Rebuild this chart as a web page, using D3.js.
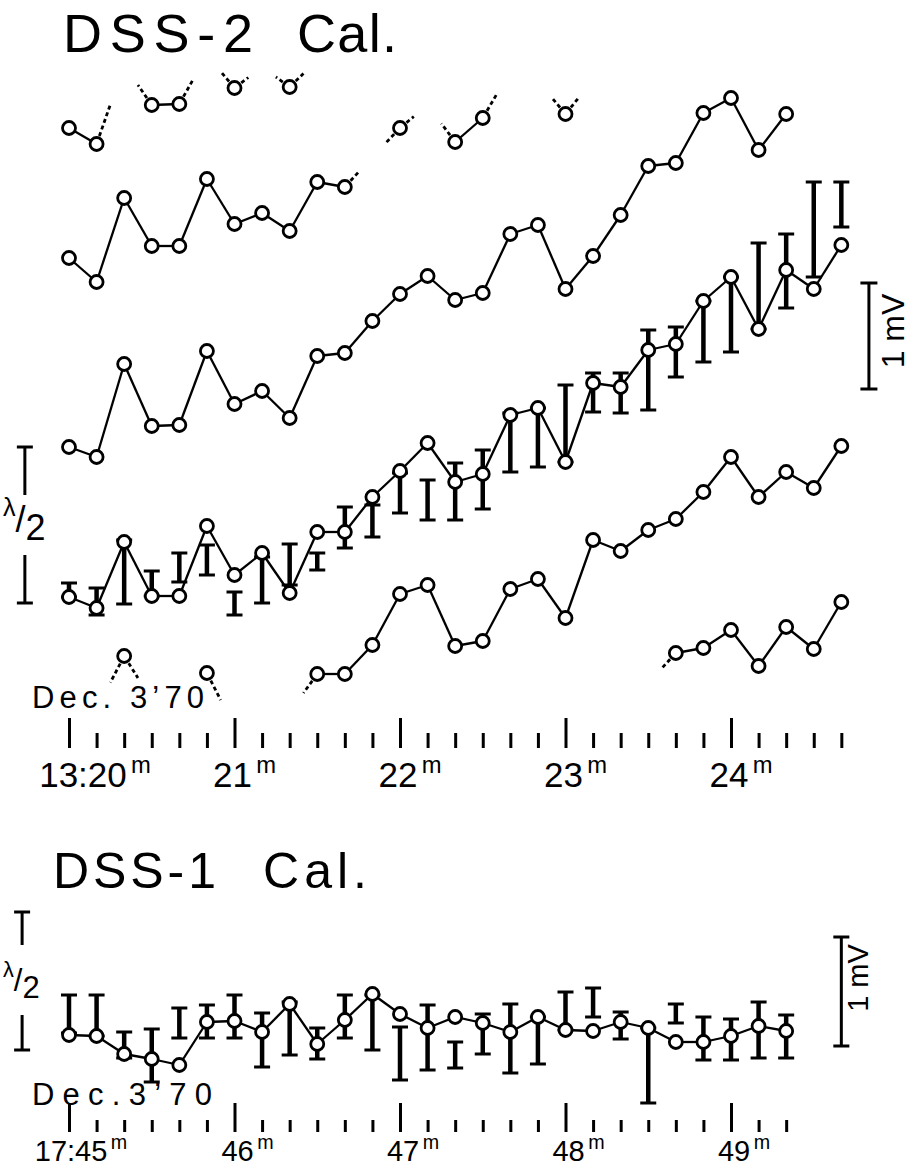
<!DOCTYPE html>
<html>
<head>
<meta charset="utf-8">
<script src="https://cdn.jsdelivr.net/npm/d3@7"></script>
<style>
  body { margin: 0; background: #fff; }
  text { font-family: "Liberation Sans", Arial, sans-serif; fill: #000; }
</style>
</head>
<body>
<div id="chart"></div>
<script>
// un point toutes les 10 s
const stepSec = 10;

// ---- DSS-2 (13:20 -> 13:24:40) ----
// phase, rangées décalées ; null = pas de point, shown = 0 : point hors bande (trait pointillé)
const dss2RowA = [602, 586, 665, 625, 626, 675, 642, 663, 643, 670];
const dss2RowAShown = [1, 1, 0, 1, 1, 0, 1, 0, 1, 0];
const dss2RowB = [472, 448, 532, 484, 484, 551, 506, 517, 499, 548, 543, 573, 602, 625, 588, 612, 659, 649, 616, 650];
const dss2RowBShown = [1, 1, 1, 1, 1, 1, 1, 1, 1, 1, 1, 0, 1, 0, 1, 1, 0, 0, 1, 0];
const dss2RowC = [283, 273, 366, 304, 305, 379, 326, 339, 312, 374, 377, 409, 436, 454, 430, 437, 496, 505, 441, 474, 515, 564, 567, 617, 632, 580, 616];
const dss2RowE = [null, 21, 74, 30, null, 57, 3, null, 18, 56, 56, 85, 136, 145, 84, 89, 141, 151, 112, 190, 179, 200, 211, 238, 273, 233, 258, 242, 284];
const dss2RowEShown = [0, 0, 1, 0, 0, 1, 0, 0, 0, 1, 1, 1, 1, 1, 1, 1, 1, 1, 1, 1, 1, 1, 1, 1, 1, 1, 1, 1, 1];
const dss2RowFStart = 21;
const dss2RowF = [47, 77, 82, 100, 64, 103, 81, 128];
const dss2RowFShown = [0, 1, 1, 1, 1, 1, 1, 1];
// amplitude avec barres d'erreur
const dss2Amp = [133, 122, 188, 134, 134, 204, 155, 177, 137, 198, 198, 233, 259, 287, 248, 256, 315, 322, 268, 347, 343, 380, 386, 429, 453, 401, 460, 441, 485];
const dss2AmpHi = [147, 142, 190, 159, 177, 185, 138, 173, 186, 177, 223, 225, 257, 250, 267, 280, 317, 322, 345, 357, 357, 400, 403, 429, 453, 487, 496, 548, 548];
const dss2AmpLo = [133, 115, 126, 134, 148, 155, 115, 127, 145, 160, 182, 193, 217, 210, 210, 221, 258, 263, 268, 318, 317, 320, 353, 368, 378, 401, 422, 453, 503];
const dss2TickLabels = ["13:20", "21", "22", "23", "24"];

// ---- DSS-1 (17:45 -> 17:49:20) ----
const dss1Amp = [95, 94, 76, 71, 65, 108, 109, 98, 126, 86, 110, 136, 116, 102, 113, 107, 98, 113, 100, 99, 108, 102, 88, 88, 94, 104, 99];
const dss1AmpHi = [135, 135, 98, 101, 122, 125, 135, 117, 128, 102, 135, 135, 103, 125, 88, 116, 126, 113, 138, 142, 118, 102, 126, 113, 111, 128, 115];
const dss1AmpLo = [97, 94, 72, 48, 92, 92, 92, 63, 75, 71, 92, 80, 50, 60, 62, 76, 57, 66, 100, 113, 91, 27, 107, 70, 70, 72, 72];
const dss1TickLabels = ["17:45", "46", "47", "48", "49"];

const width = 912, height = 1170;
const r = 6.5;
const stubFrac = 0.5;

let svg = d3.select("#chart").append("svg")
  .attr("width", width)
  .attr("height", height);

// échelles
let x2 = d3.scaleLinear().domain([0, 240]).range([69, 731]);
let y2 = d3.scaleLinear().domain([0, 650]).range([730, 80]);
let x1 = d3.scaleLinear().domain([0, 240]).range([69, 731]);
let y1 = d3.scaleLinear().domain([0, 300]).range([1130, 830]);

let marks = svg.append("g");
let dots = svg.append("g");

function trace(vals, shown, start, x, y) {
  let pts = vals.map((v, k) => ({ t: (start + k) * stepSec, v: v, on: shown ? shown[k] === 1 : true }));
  let segs = [], stubs = [];
  for (let k = 0; k < pts.length - 1; k++) {
    let a = pts[k], b = pts[k + 1];
    if (a.v === null || b.v === null) continue;
    if (a.on && b.on) segs.push([a, b]);
    else if (a.on) stubs.push([a, b]);
    else if (b.on) stubs.push([b, a]);
  }
  marks.selectAll(null).data(segs).join("line")
    .attr("x1", d => x(d[0].t)).attr("y1", d => y(d[0].v))
    .attr("x2", d => x(d[1].t)).attr("y2", d => y(d[1].v))
    .attr("stroke", "#000").attr("stroke-width", 2.3);

  marks.selectAll(null).data(stubs).join("line")
    .each(function (d) {
      let ax = x(d[0].t), ay = y(d[0].v), bx = x(d[1].t), by = y(d[1].v);
      let len = Math.hypot(bx - ax, by - ay);
      let ux = (bx - ax) / len, uy = (by - ay) / len;
      d3.select(this)
        .attr("x1", ax + ux * (r + 2)).attr("y1", ay + uy * (r + 2))
        .attr("x2", ax + ux * len * stubFrac).attr("y2", ay + uy * len * stubFrac);
    })
    .attr("stroke", "#000").attr("stroke-width", 2.8)
    .attr("stroke-dasharray", "4,3");

  dots.selectAll(null).data(pts.filter(p => p.on && p.v !== null)).join("circle")
    .attr("cx", d => x(d.t)).attr("cy", d => y(d.v)).attr("r", r)
    .attr("fill", "#fff").attr("stroke", "#000").attr("stroke-width", 2.8);
}

function errorBars(hi, lo, x, y, capW) {
  let d = hi.map((h, i) => ({ t: i * stepSec, hi: h, lo: lo[i] }));
  marks.selectAll(null).data(d).join("line")
    .attr("x1", e => x(e.t)).attr("x2", e => x(e.t))
    .attr("y1", e => y(e.hi)).attr("y2", e => y(e.lo))
    .attr("stroke", "#000").attr("stroke-width", 4.5);
  ["hi", "lo"].forEach(k => {
    marks.selectAll(null).data(d).join("line")
      .attr("x1", e => x(e.t) - capW / 2).attr("x2", e => x(e.t) + capW / 2)
      .attr("y1", e => y(e[k])).attr("y2", e => y(e[k]))
      .attr("stroke", "#000").attr("stroke-width", 3);
  });
}

// barre d'échelle verticale avec empattements
function scaleBar(x, yTop, yBot, capW, caps) {
  marks.append("line").attr("x1", x).attr("x2", x).attr("y1", yTop).attr("y2", yBot)
    .attr("stroke", "#000").attr("stroke-width", 3);
  caps.forEach(yy => {
    marks.append("line").attr("x1", x - capW / 2).attr("x2", x + capW / 2)
      .attr("y1", yy).attr("y2", yy).attr("stroke", "#000").attr("stroke-width", 3);
  });
}

function timeAxis(x, yBase, lastSec, majorLen, minorLen, labels, labelY, fontSize, dxFirst, dx) {
  let major = d3.axisTop(x).tickValues(d3.range(0, lastSec + 1, 60)).tickSize(majorLen).tickFormat("");
  let minor = d3.axisTop(x).tickValues(d3.range(0, lastSec + 1, 10).filter(t => t % 60)).tickSize(minorLen).tickFormat("");
  [major, minor].forEach(ax => {
    let g = svg.append("g").attr("transform", "translate(0," + yBase + ")").call(ax);
    g.select(".domain").remove();
    g.selectAll(".tick line").attr("stroke", "#000").attr("stroke-width", 3);
  });
  labels.forEach((lab, i) => {
    let t = svg.append("text")
      .attr("x", x(i * 60) + (i === 0 ? dxFirst : dx))
      .attr("y", labelY)
      .style("font-size", fontSize + "px")
      .style("text-anchor", "middle");
    t.append("tspan").text(lab);
    t.append("tspan").attr("dx", fontSize * 0.12).attr("dy", -fontSize * 0.4)
      .style("font-size", fontSize * 0.68 + "px").text("m");
  });
}

// ---------- DSS-2 ----------
errorBars(dss2AmpHi, dss2AmpLo, x2, y2, 16);
trace(dss2Amp, null, 0, x2, y2);
trace(dss2RowA, dss2RowAShown, 0, x2, y2);
trace(dss2RowB, dss2RowBShown, 0, x2, y2);
trace(dss2RowC, null, 0, x2, y2);
trace(dss2RowE, dss2RowEShown, 0, x2, y2);
trace(dss2RowF, dss2RowFShown, dss2RowFStart, x2, y2);

// λ/2 à gauche, 1 mV à droite
scaleBar(x2(-16), y2(283), y2(235), 16, [y2(283)]);
scaleBar(x2(-16), y2(175), y2(127), 16, [y2(127)]);
scaleBar(x2(290), y2(447), y2(341), 17, [y2(447), y2(341)]);

timeAxis(x2, 748, 280, 30, 15, dss2TickLabels, 787, 35, 26, 10);

// ---------- DSS-1 ----------
errorBars(dss1AmpHi, dss1AmpLo, x1, y1, 16);
trace(dss1Amp, null, 0, x1, y1);

scaleBar(x1(-17), y1(218), y1(185), 16, [y1(218)]);
scaleBar(x1(-17), y1(115), y1(80), 16, [y1(80)]);
scaleBar(x1(280), y1(193), y1(84), 16, [y1(193), y1(84)]);

timeAxis(x1, 1132, 260, 29, 12, dss1TickLabels, 1161, 29, 12, 13);

// ---------- textes ----------
function title(txt, x, y, size, len) {
  svg.append("text").attr("x", x).attr("y", y)
    .attr("textLength", len).attr("lengthAdjust", "spacing")
    .style("font-size", size + "px").text(txt);
}
title("DSS-2", 63, 52, 54, 190);
title("Cal.", 297, 52, 54, 100);
title("DSS-1", 53, 888, 50, 163);
title("Cal.", 263, 888, 50, 104);

title("Dec. 3\u201970", 32, 708, 31, 172);
title("Dec.3\u201970", 32, 1105, 31, 180);

// λ/2 en fraction inclinée, un seul texte
function halfWave(x, y, size) {
  let t = svg.append("text").attr("x", x).attr("y", y);
  t.append("tspan").style("font-size", size * 0.7 + "px").text("λ");
  t.append("tspan").attr("dy", size * 0.45)
    .style("font-size", size + "px").text("/");
  t.append("tspan").attr("dy", size * 0.22)
    .style("font-size", size + "px").text("2");
}
halfWave(3, 516, 36);
halfWave(3, 977, 31);

function mvLabel(x, y, size) {
  svg.append("text")
    .attr("transform", "translate(" + x + "," + y + ") rotate(-90)")
    .style("font-size", size + "px").style("text-anchor", "middle")
    .text("1 mV");
}
mvLabel(904, 331, 32);
mvLabel(868, 978, 29);
</script>
</body>
</html>
